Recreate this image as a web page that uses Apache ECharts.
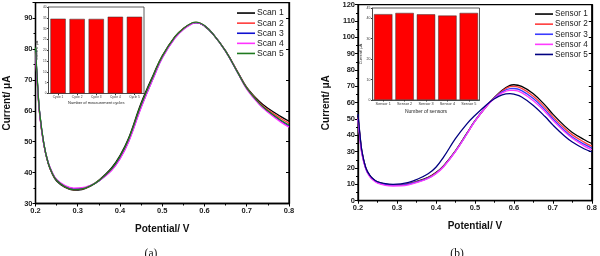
<!DOCTYPE html>
<html><head><meta charset="utf-8">
<script src="https://cdn.jsdelivr.net/npm/echarts@6/dist/echarts.min.js"></script>
<style>html,body{margin:0;padding:0;background:#fff}#c{width:600px;height:256px}</style>
</head><body><div id="c"></div>
<script>
// Panel (a): repeated scans
const potA = [0.2, 0.205, 0.21, 0.22, 0.23, 0.24, 0.25, 0.27, 0.29, 0.31, 0.33, 0.35, 0.38, 0.4, 0.42, 0.45, 0.48, 0.5, 0.53, 0.55, 0.57, 0.58, 0.6, 0.62, 0.65, 0.68, 0.7, 0.73, 0.75, 0.78, 0.8];
const scan1 = [80, 68, 59, 49, 43, 39.5, 37.3, 35.2, 34.3, 34.5, 35.6, 37.5, 41.5, 45.5, 51, 62.5, 72, 77.8, 84, 86.6, 88.3, 88.5, 87.4, 84.8, 79.3, 72.2, 67.6, 63, 60.8, 58.2, 56.6];
const scan2 = [79, 67.5, 58.5, 48.8, 43, 39.6, 37.5, 35.4, 34.5, 34.7, 35.7, 37.4, 41, 45, 50.4, 61.8, 71.5, 77.5, 83.8, 86.6, 88.3, 88.6, 87.5, 84.9, 79.4, 72.2, 67.4, 62.6, 60.3, 57.6, 56];
const scan3 = [79.5, 68, 59, 49, 43.2, 39.8, 37.6, 35.6, 34.8, 34.9, 35.8, 37.3, 40.8, 44.6, 50, 61.2, 71, 77.2, 83.6, 86.4, 88.2, 88.5, 87.5, 84.9, 79.3, 72, 67.2, 62.2, 59.8, 56.8, 55];
const scan4 = [79, 67.5, 58.8, 49, 43.4, 40, 37.8, 35.8, 35, 35.1, 35.9, 37.3, 40.7, 44.4, 49.8, 61, 70.9, 77.1, 83.5, 86.3, 88.1, 88.5, 87.5, 84.9, 79.2, 71.9, 67, 62, 59.5, 56.4, 54.7];
const scan5 = [80.5, 68.5, 59.2, 49.2, 43.2, 39.7, 37.5, 35.4, 34.5, 34.7, 35.7, 37.4, 41.2, 45.2, 50.7, 62, 71.7, 77.6, 83.9, 86.6, 88.4, 88.7, 87.6, 84.9, 79.3, 72, 67.3, 62.4, 60, 57, 55.4];
const scanNames = ['Scan 1', 'Scan 2', 'Scan 3', 'Scan 4', 'Scan 5'];
const cycles = ['Cycle 1', 'Cycle 2', 'Cycle 3', 'Cycle 4', 'Cycle 5'];
const cycleVals = [34.6, 34.5, 34.5, 35.5, 35.5];

// Panel (b): different sensors
const potB = [0.2, 0.205, 0.21, 0.22, 0.23, 0.24, 0.25, 0.27, 0.29, 0.31, 0.33, 0.35, 0.38, 0.4, 0.42, 0.45, 0.48, 0.5, 0.53, 0.55, 0.57, 0.59, 0.6, 0.62, 0.65, 0.68, 0.7, 0.73, 0.75, 0.78, 0.8];
const sensor1 = [52, 40, 30, 20, 15.5, 13, 11.5, 10.2, 9.8, 9.9, 10.5, 11.7, 14.3, 17.2, 21.5, 30.5, 41.5, 48.8, 58, 63.2, 67.6, 70.6, 71, 70, 65.5, 58.5, 53, 45.8, 41.8, 37.5, 35];
const sensor2 = [51, 39, 29.5, 19.8, 15.2, 12.8, 11.3, 10, 9.6, 9.7, 10.3, 11.5, 14, 16.9, 21.2, 30.3, 41.3, 48.7, 58, 63, 67.2, 69.8, 70, 68.8, 64, 57, 51.5, 44.3, 40.3, 35.9, 33.4];
const sensor3 = [50, 38.5, 29, 19.6, 15, 12.6, 11.1, 9.8, 9.4, 9.5, 10.1, 11.3, 13.8, 16.7, 21, 30.2, 41.2, 48.7, 58, 62.8, 66.6, 68.6, 68.7, 67.4, 62.5, 55.6, 50.2, 43, 39, 34.6, 32.2];
const sensor4 = [50, 38, 28.5, 19.4, 14.8, 12.3, 10.8, 9.4, 9, 9.1, 9.7, 11, 13.6, 16.5, 20.8, 30, 41, 48.6, 57.8, 62.5, 66, 67.6, 67.6, 66.2, 61.2, 54.5, 49.2, 42.2, 38.2, 33.6, 31.2];
const sensor5 = [53, 40.5, 30.5, 20.2, 15.6, 13.1, 11.6, 10.4, 10, 10.3, 11.2, 12.9, 16.5, 20.5, 26.8, 38, 47.2, 52.2, 58.8, 62.4, 64.8, 65.5, 65.2, 63.5, 58.3, 51.5, 46.4, 39.6, 35.9, 31.8, 29.9];
const sensorNames = ['Sensor 1', 'Sensor 2', 'Sensor 3', 'Sensor 4', 'Sensor 5'];
const sensorCats = ['Sensor 1', 'Sensor 2', 'Sensor 3', 'Sensor 4', 'Sensor 5'];
const sensorVals = [42.0, 42.6, 41.9, 41.3, 42.6];

const xTicks = [0.2, 0.8, 0.1];

const colorsA = ['#000000', '#ff3b3b', '#1010d0', '#ff33ff', '#1f7a1f'];
const colorsB = ['#000000', '#ff3b3b', '#3b3bff', '#ff3bff', '#000080'];

const FONT = 'Liberation Sans, Arial, sans-serif';
const pair = (xs, ys) => xs.map((x, i) => [x, ys[i]]);

function mainX(gi, nameGap) {
  return {
    type: 'value', gridIndex: gi, min: xTicks[0], max: xTicks[1], interval: xTicks[2],
    name: 'Potential/ V', nameLocation: 'middle', nameGap: nameGap,
    nameTextStyle: { fontFamily: FONT, fontWeight: 'bold', fontSize: 10, color: '#111' },
    axisLine: { show: true, lineStyle: { color: '#000', width: 1.3 } },
    axisTick: { show: true, length: 3, lineStyle: { color: '#000' } },
    minorTick: { show: true, splitNumber: 2, length: 2, lineStyle: { color: '#000' } },
    axisLabel: { fontFamily: FONT, fontWeight: 'bold', fontSize: 7.5, color: '#222', margin: 3, formatter: v => v.toFixed(1) },
    splitLine: { show: false }
  };
}
function mainY(gi, min, max, nameGap) {
  return {
    type: 'value', gridIndex: gi, min: min, max: max, interval: 10,
    name: 'Current/ μA', nameLocation: 'middle', nameGap: nameGap,
    nameTextStyle: { fontFamily: FONT, fontWeight: 'bold', fontSize: 10, color: '#111' },
    axisLine: { show: true, lineStyle: { color: '#000', width: 1.3 } },
    axisTick: { show: true, length: 3, lineStyle: { color: '#000' } },
    minorTick: { show: true, splitNumber: 2, length: 2, lineStyle: { color: '#000' } },
    axisLabel: { fontFamily: FONT, fontWeight: 'bold', fontSize: 7.5, color: '#222', margin: 3, showMaxLabel: max % 10 === 0 },
    splitLine: { show: false }
  };
}
function rightY(gi, min, max) {
  return {
    type: 'value', gridIndex: gi, min: min, max: max, interval: 10, position: 'right',
    axisLine: { show: true, lineStyle: { color: '#000', width: 1.3 } },
    axisTick: { show: true, inside: true, length: 3, lineStyle: { color: '#000' } },
    axisLabel: { show: false }, splitLine: { show: false }
  };
}
function insetX(gi, cats, name, fs, nfs, gap) {
  return {
    type: 'category', gridIndex: gi, data: cats,
    name: name, nameLocation: 'middle', nameGap: gap,
    nameTextStyle: { fontFamily: FONT, fontSize: nfs, color: '#222' },
    axisLine: { show: true, lineStyle: { color: '#333', width: 0.8 } },
    axisTick: { show: true, alignWithLabel: true, length: 1.5, lineStyle: { color: '#333' } },
    axisLabel: { fontFamily: FONT, fontSize: fs, color: '#333', margin: 2, interval: 0 },
    splitLine: { show: false }
  };
}
function insetY(gi, max, interval, fs, gap) {
  return {
    type: 'value', gridIndex: gi, min: 0, max: max, interval: interval,
    name: 'Current/ μA', nameLocation: 'middle', nameGap: gap,
    nameTextStyle: { fontFamily: FONT, fontSize: fs + 0.5, color: '#222' },
    axisLine: { show: true, lineStyle: { color: '#333', width: 0.8 } },
    axisTick: { show: true, length: 1.5, lineStyle: { color: '#333' } },
    axisLabel: { fontFamily: FONT, fontSize: fs, color: '#333', margin: 2 },
    splitLine: { show: false }
  };
}

const series = [];
[scan1, scan2, scan3, scan4, scan5].forEach((ys, i) => {
  series.push({ type: 'line', name: scanNames[i], xAxisIndex: 0, yAxisIndex: 0, data: pair(potA, ys),
    smooth: 0.4, showSymbol: false, symbol: 'none', color: colorsA[i], lineStyle: { width: 1.3, color: colorsA[i] }, z: 3 });
});
[sensor1, sensor2, sensor3, sensor4, sensor5].forEach((ys, i) => {
  series.push({ type: 'line', name: sensorNames[i], xAxisIndex: 1, yAxisIndex: 1, data: pair(potB, ys),
    smooth: 0.4, showSymbol: false, symbol: 'none', color: colorsB[i], lineStyle: { width: 1.3, color: colorsB[i] }, z: 3 });
});
series.push({ type: 'bar', name: 'cycles', xAxisIndex: 2, yAxisIndex: 2, data: cycleVals, barWidth: '80%',
  itemStyle: { color: '#ff0000', borderColor: '#333', borderWidth: 0.5 }, z: 5 });
series.push({ type: 'bar', name: 'sensors', xAxisIndex: 3, yAxisIndex: 3, data: sensorVals, barWidth: '86%',
  itemStyle: { color: '#ff0000', borderColor: '#333', borderWidth: 0.5 }, z: 5 });

const legendCommon = {
  orient: 'vertical', icon: 'rect', itemWidth: 18, itemHeight: 1.6, itemGap: 0,
  padding: 0, selectedMode: false
};

const option = {
  animation: false,
  backgroundColor: '#fff',
  title: [
    { text: '(a)', left: 146, top: 243, textAlign: 'center', textStyle: { fontFamily: 'Liberation Serif, DejaVu Serif, serif', fontSize: 11.5, fontWeight: 'normal', color: '#111' } },
    { text: '(b)', left: 452, top: 243, textAlign: 'center', textStyle: { fontFamily: 'Liberation Serif, DejaVu Serif, serif', fontSize: 11.5, fontWeight: 'normal', color: '#111' } }
  ],
  legend: [
    Object.assign({}, legendCommon, { data: scanNames, left: 237, top: 8,
      textStyle: { fontFamily: FONT, fontSize: 8.6, color: '#222', lineHeight: 10.1, padding: [0, 0, 0, -3] } }),
    Object.assign({}, legendCommon, { data: sensorNames, left: 535, top: 9,
      textStyle: { fontFamily: FONT, fontSize: 8.2, color: '#222', lineHeight: 10.1, padding: [0, 0, 0, -3] } })
  ],
  grid: [
    { left: 35.5, top: 2.6, width: 253.5, height: 200.9, show: true, borderColor: '#000', borderWidth: 1.3, backgroundColor: 'transparent' },
    { left: 358, top: 4.7, width: 235, height: 196, show: true, borderColor: '#000', borderWidth: 1.3, backgroundColor: 'transparent' },
    { left: 48.5, top: 7, width: 95.5, height: 86.5, show: true, borderColor: '#333', borderWidth: 0.8, backgroundColor: '#fff', z: 4 },
    { left: 372.5, top: 8, width: 107, height: 92, show: true, borderColor: '#333', borderWidth: 0.8, backgroundColor: '#fff', z: 4 }
  ],
  xAxis: [
    mainX(0, 21),
    mainX(1, 21),
    insetX(2, cycles, 'Number of measurement cycles', 3.2, 4, 7),
    insetX(3, sensorCats, 'Number of sensors', 3.8, 5, 9)
  ],
  yAxis: [
    mainY(0, 30, 95, 23),
    mainY(1, 0, 120, 27),
    insetY(2, 40, 5, 3.2, 5),
    insetY(3, 45, 10, 3.5, 6),
    rightY(0, 30, 95),
    rightY(1, 0, 120)
  ],
  series: series
};

const chart = echarts.init(document.getElementById('c'), null, { renderer: 'canvas' });
chart.setOption(option);
</script>
</body></html>
